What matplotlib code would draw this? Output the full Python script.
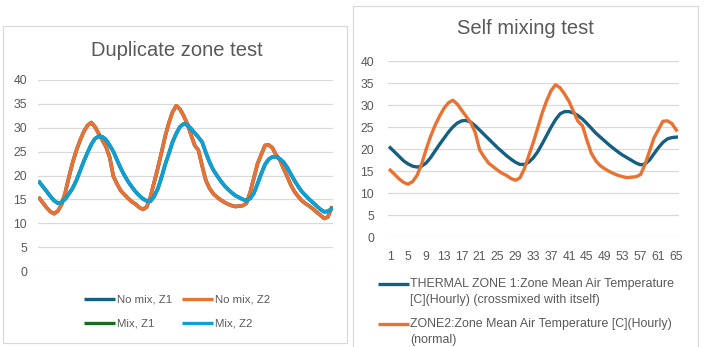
import numpy as np
import matplotlib.pyplot as plt
from matplotlib.lines import Line2D
from matplotlib.patches import Rectangle

W, H = 707, 347

# zone temperatures [C], hourly
zone2_normal = [15.2, 14.2, 13.2, 12.4, 12.0, 12.6, 14.0, 16.5, 19.8, 22.8,
                25.3, 27.4, 29.2, 30.5, 31.1, 30.2, 28.8, 27.4, 26.0, 23.8,
                19.8, 18.2, 16.8, 16.0, 15.2, 14.5, 14.0, 13.3, 12.9, 13.4,
                15.5, 18.5, 21.5, 24.8, 28.2, 31.0, 33.3, 34.6, 33.9, 32.5,
                30.8, 28.5, 26.3, 25.3, 22.0, 19.0, 17.3, 16.2, 15.5, 14.9,
                14.4, 14.0, 13.7, 13.5, 13.6, 13.7, 14.2, 16.5, 19.5, 22.5,
                24.4, 26.3, 26.4, 25.8, 24.3]
zone1_selfmix = [20.3, 19.3, 18.3, 17.3, 16.6, 16.1, 15.9, 16.1, 16.8, 18.0,
                 19.5, 21.0, 22.4, 23.8, 25.0, 25.9, 26.4, 26.5, 26.1, 25.3,
                 24.3, 23.3, 22.3, 21.3, 20.3, 19.4, 18.5, 17.7, 17.0, 16.5,
                 16.5, 17.0, 18.0, 19.4, 21.2, 23.1, 25.0, 26.7, 28.0, 28.5,
                 28.5, 28.2, 27.6, 26.8, 25.8, 24.7, 23.6, 22.7, 21.8, 20.9,
                 20.1, 19.3, 18.6, 18.0, 17.4, 16.8, 16.4, 16.6, 17.5, 18.9,
                 20.3, 21.5, 22.3, 22.6, 22.7]

# duplicate zone test runs 15 hours longer
nomix_tail = [23.3, 21.5, 19.8, 18.0, 16.6, 15.6, 14.7, 14.1, 13.6, 13.0,
              12.3, 11.7, 11.0, 11.3, 13.2]
nomix_z2 = zone2_normal + nomix_tail
nomix_z1 = list(nomix_z2)
mix_z2 = [18.6, 17.6, 16.6, 15.6, 14.7, 14.2, 14.4, 15.1, 16.2, 17.4,
          19.0, 21.0, 23.0, 24.8, 26.5, 27.7, 28.2, 28.1, 27.5, 26.3,
          25.0, 23.2, 21.5, 20.0, 18.7, 17.6, 16.6, 15.8, 15.1, 14.7,
          14.6, 15.6, 17.2, 19.6, 22.3, 24.6, 27.0, 28.8, 30.2, 30.8,
          30.6, 29.8, 28.9, 28.0, 27.0, 24.8, 22.8, 21.2, 20.0, 18.9,
          17.9, 17.1, 16.4, 15.8, 15.4, 15.0, 14.7, 15.2, 16.3, 18.3,
          20.4, 22.3, 23.4, 23.9, 23.9, 23.5, 22.8, 21.7, 20.3, 18.9,
          17.7, 16.6, 15.8, 15.0, 14.3, 13.6, 12.9, 12.4, 12.5, 13.0]
mix_z1 = list(mix_z2)

dup_labels = ["No mix, Z1", "No mix, Z2", "Mix, Z1", "Mix, Z2"]
self_labels = ["THERMAL ZONE 1:Zone Mean Air Temperature\n[C](Hourly) (crossmixed with itself)",
               "ZONE2:Zone Mean Air Temperature [C](Hourly)\n(normal)"]

DARK_BLUE = "#156082"
ORANGE = "#E97132"
GREEN = "#196B24"
LIGHT_BLUE = "#0F9ED5"
GRID = "#d9d9d9"
TEXT = "#595959"

plt.rcParams["font.family"] = ["Liberation Sans", "DejaVu Sans"]


def fx(x):
    return x / W


def fy(y):
    return 1 - y / H


def px_axes(fig, x0, y0, x1, y1):
    return fig.add_axes([fx(x0), fy(y1), (x1 - x0) / W, (y1 - y0) / H])


def style_axes(ax, ypad):
    ax.set_ylim(0, 40)
    ax.set_yticks(np.arange(0, 41, 5))
    ax.grid(axis="y", color=GRID, lw=0.9)
    ax.set_axisbelow(True)
    for s in ax.spines.values():
        s.set_visible(False)
    ax.tick_params(length=0, labelsize=8.8, colors=TEXT)
    ax.tick_params(axis="y", pad=ypad)


def legend_entry(fig, x, y, color, label, lw=2.4, size=8.9):
    # handle sits on the first text line
    fig.add_artist(Line2D([fx(x), fx(x + 31)], [fy(y), fy(y)], color=color, lw=lw,
                          transform=fig.transFigure, solid_capstyle="butt"))
    fig.text(fx(x + 32), fy(y - 6), label, color=TEXT, fontsize=size, va="top",
             ha="left", linespacing=1.45, transform=fig.transFigure)


fig = plt.figure(figsize=(W / 100, H / 100), dpi=100)

# panel frames
fig.add_artist(Rectangle((fx(3), fy(343)), (347 - 3) / W, (343 - 26) / H, fill=False,
                         edgecolor=GRID, lw=0.9, transform=fig.transFigure))
fig.add_artist(Rectangle((fx(353), fy(360)), (698 - 353) / W, (360 - 6) / H, fill=False,
                         edgecolor=GRID, lw=0.9, transform=fig.transFigure))

# left: duplicate zone test
ax1 = px_axes(fig, 38, 80, 333, 271)
x_dup = np.arange(1, len(nomix_z2) + 1)
ax1.plot(x_dup, nomix_z1, color=DARK_BLUE, lw=2.6)
ax1.plot(x_dup, nomix_z2, color=ORANGE, lw=2.6)
ax1.plot(x_dup, mix_z1, color=GREEN, lw=2.6)
ax1.plot(x_dup, mix_z2, color=LIGHT_BLUE, lw=2.6)
ax1.set_xlim(0.6, len(x_dup) + 0.4)
ax1.set_xticks([])
style_axes(ax1, 8)
fig.text(fx(177), fy(50), "Duplicate zone test", ha="center", va="center",
         fontsize=14.5, color=TEXT)

dup_colors = [DARK_BLUE, ORANGE, GREEN, LIGHT_BLUE]
dup_pos = [(84, 299), (182, 299), (84, 323), (182, 323)]
for (lx, ly), c, lab in zip(dup_pos, dup_colors, dup_labels):
    fig.add_artist(Line2D([fx(lx), fx(lx + 31)], [fy(ly), fy(ly)], color=c, lw=2.4,
                          transform=fig.transFigure, solid_capstyle="butt"))
    fig.text(fx(lx + 33), fy(ly), lab, color=TEXT, fontsize=8.2, va="center", ha="left")

# right: self mixing test
ax2 = px_axes(fig, 388, 61, 679, 237)
x_self = np.arange(1, len(zone2_normal) + 1)
ax2.plot(x_self, zone1_selfmix, color=DARK_BLUE, lw=2.4)
ax2.plot(x_self, zone2_normal, color=ORANGE, lw=2.4)
ax2.set_xlim(0.5, len(x_self) + 0.6)
ax2.set_xticks(np.arange(1, len(x_self) + 1, 4))
style_axes(ax2, 10)
ax2.tick_params(axis="x", pad=10)
fig.text(fx(525), fy(29), "Self mixing test", ha="center", va="center",
         fontsize=14.5, color=TEXT)

legend_entry(fig, 378, 284, DARK_BLUE, self_labels[0])
legend_entry(fig, 378, 324, ORANGE, self_labels[1])

fig.savefig("out.png", dpi=100)
